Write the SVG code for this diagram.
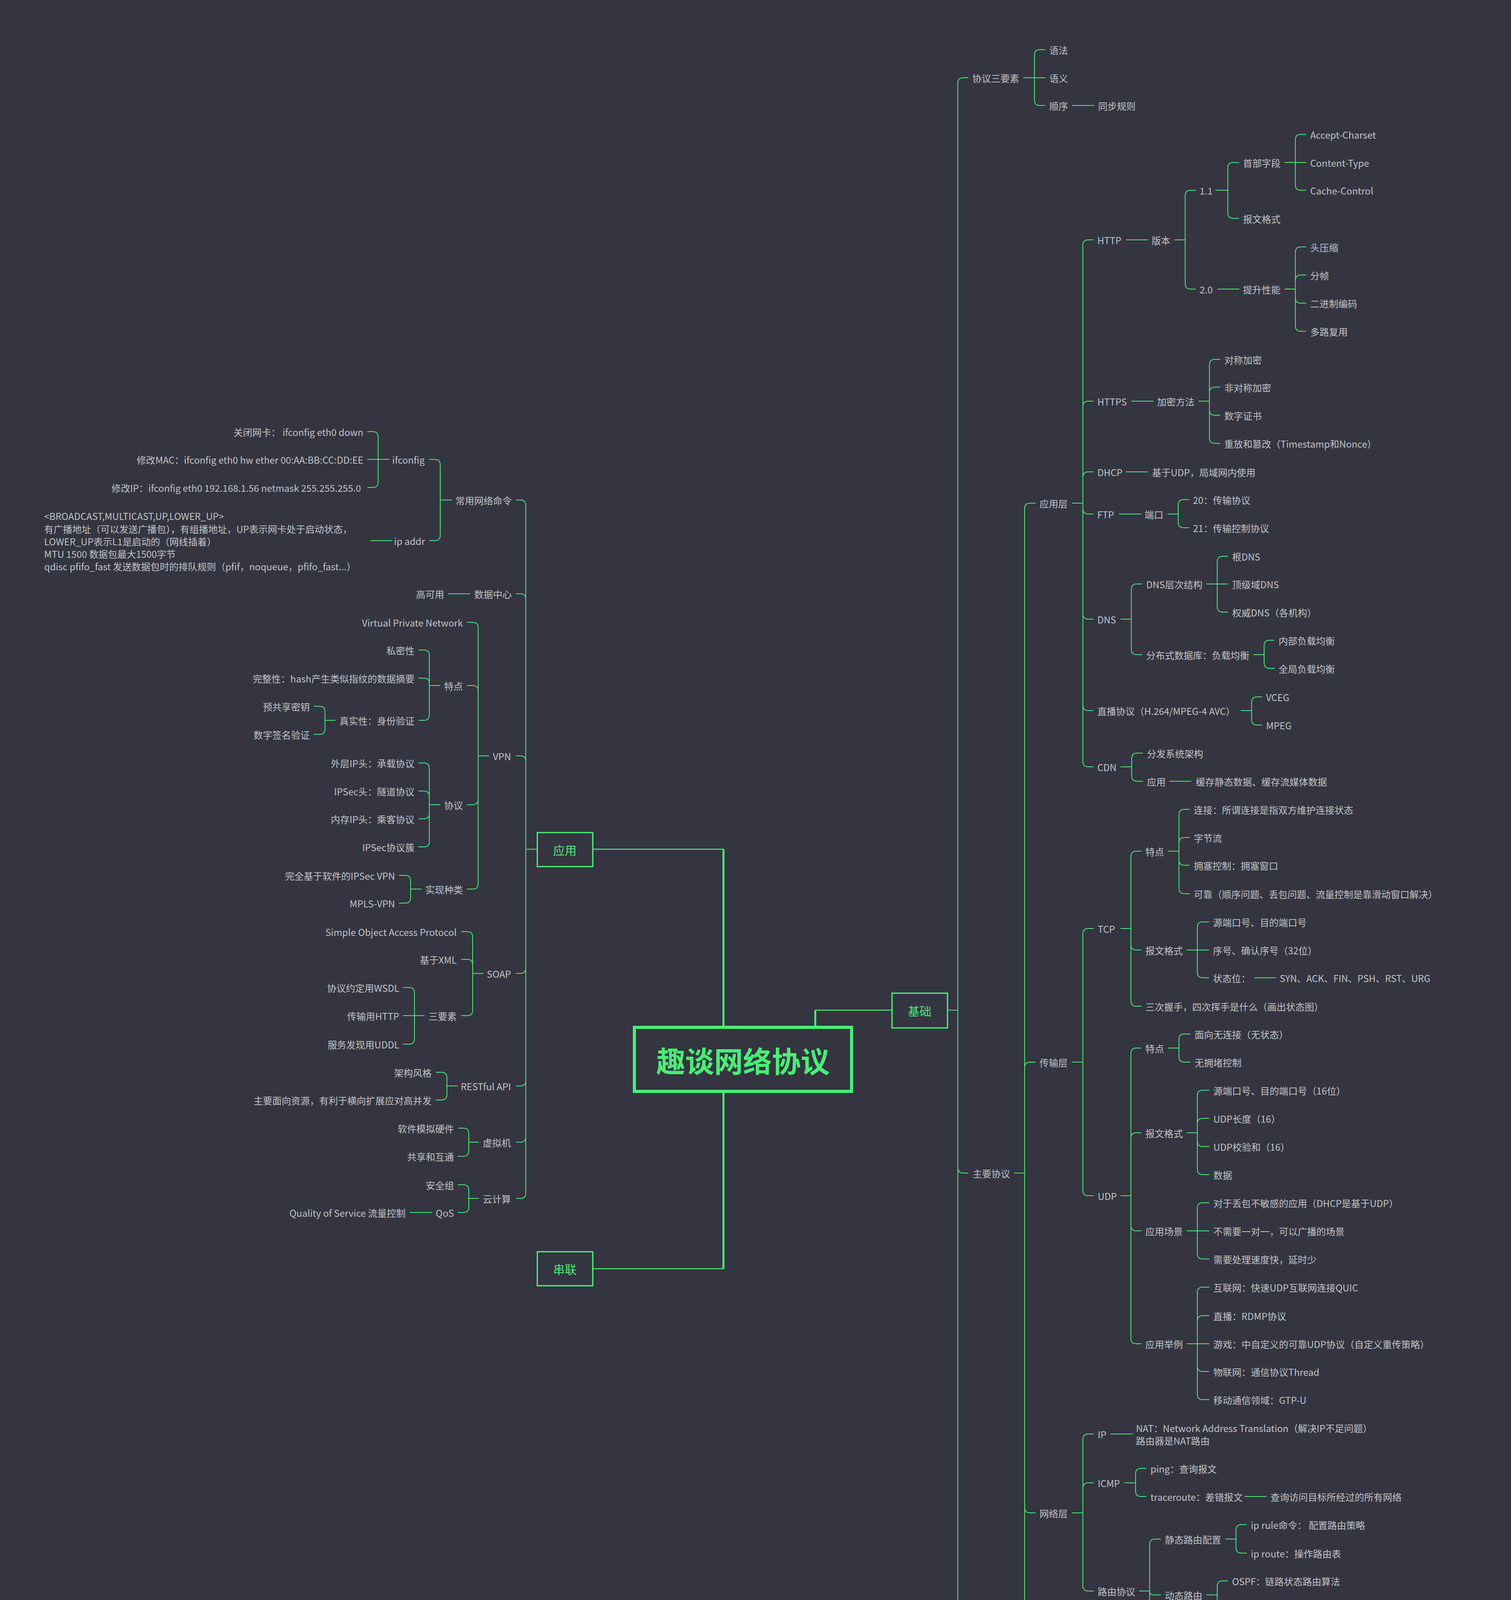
<svg xmlns="http://www.w3.org/2000/svg" width="3868" height="5280" viewBox="0 0 3868 5280">
<style>
.t{font-family:"Noto Sans CJK SC","Noto Sans",sans-serif;font-size:24px;fill:#c4c4c8;dominant-baseline:central}
.r{text-anchor:end}
.c{fill:none;stroke:#4bed76;stroke-width:2;stroke-linecap:round;stroke-linejoin:round}
.k{fill:none;stroke:#4bed76}
.b{fill:#343541;stroke:#4bed76;stroke-width:3.3}
.bt{font-family:"Noto Sans CJK SC","Noto Sans",sans-serif;font-size:30px;fill:#4bed76;text-anchor:middle;dominant-baseline:central}
</style>
<rect width="3868" height="5280" fill="#343541"/>
<g id="connectors">
<g class="k">
<path d="M1519 2174H1852M1519 3248H1852M2282 2586H2087" stroke-width="2.5"/>
<path d="M1852 2174V2630M1852 3248V2794M2087 2586V2630" stroke-width="5"/>
</g>
<g class="c">
<path d="M2427 2586H2452M2452 2586V213Q2452 199 2466 199H2478M2452 2586V2989Q2452 3003 2466 3003H2478M2452 2586V4957Q2452 4971 2466 4971H2478"/>
<path d="M2620 199H2648M2648 199V141Q2648 127 2662 127H2675M2648 199H2675M2648 199V256Q2648 270 2662 270H2675M2745 270H2800"/>
<path d="M2597 3003H2623M2623 3003V1302Q2623 1288 2637 1288H2650M2623 3003V2733Q2623 2719 2637 2719H2650M2623 3003V3859Q2623 3873 2637 3873H2650M2623 3003V4439Q2623 4453 2637 4453H2650M2623 3003V4705Q2623 4719 2637 4719H2650"/>
<path d="M2745 1288H2772M2772 1288V628Q2772 614 2786 614H2798M2772 1288V1041Q2772 1027 2786 1027H2798M2772 1288V1222Q2772 1208 2786 1208H2798M2772 1288V1302Q2772 1316 2786 1316H2798M2772 1288V1571Q2772 1585 2786 1585H2798M2772 1288V1805Q2772 1819 2786 1819H2798M2772 1288V1949Q2772 1963 2786 1963H2798"/>
<path d="M2883 614H2938M3007 614H3034M3034 614V501Q3034 487 3048 487H3060M3034 614V726Q3034 740 3048 740H3060"/>
<path d="M3112 487H3143M3143 487V430Q3143 416 3157 416H3171M3143 487V545Q3143 559 3157 559H3171"/>
<path d="M3289 416H3316M3316 416V358Q3316 344 3330 344H3343M3316 416H3343M3316 416V473Q3316 487 3330 487H3343"/>
<path d="M3117 740H3172M3289 740H3316M3316 740V646Q3316 632 3330 632H3343M3316 740V718Q3316 704 3330 704H3343M3316 740V762Q3316 776 3330 776H3343M3316 740V834Q3316 848 3330 848H3343"/>
<path d="M2897 1027H2952M3069 1027H3096M3096 1027V934Q3096 920 3110 920H3123M3096 1027V1005Q3096 991 3110 991H3123M3096 1027V1049Q3096 1063 3110 1063H3123M3096 1027V1121Q3096 1135 3110 1135H3123"/>
<path d="M2883 1208H2938"/>
<path d="M2865 1316H2920M2989 1316H3016M3016 1316V1293Q3016 1279 3030 1279H3043M3016 1316V1337Q3016 1351 3030 1351H3043"/>
<path d="M2869 1585H2896M2896 1585V1509Q2896 1495 2910 1495H2923M2896 1585V1662Q2896 1676 2910 1676H2923"/>
<path d="M3089 1495H3116M3116 1495V1438Q3116 1424 3130 1424H3143M3116 1495H3143M3116 1495V1553Q3116 1567 3130 1567H3143"/>
<path d="M3209 1676H3236M3236 1676V1653Q3236 1639 3250 1639H3262M3236 1676V1697Q3236 1711 3250 1711H3262"/>
<path d="M3177 1819H3204M3204 1819V1798Q3204 1784 3218 1784H3230M3204 1819V1842Q3204 1856 3218 1856H3230"/>
<path d="M2869 1963H2897M2897 1963V1942Q2897 1928 2911 1928H2925M2897 1963V1986Q2897 2000 2911 2000H2925M2994 2000H3049"/>
<path d="M2745 2719H2772M2772 2719V2391Q2772 2377 2786 2377H2799M2772 2719V3047Q2772 3061 2786 3061H2799"/>
<path d="M2869 2377H2895M2895 2377V2193Q2895 2179 2909 2179H2921M2895 2377V2418Q2895 2432 2909 2432H2921M2895 2377V2562Q2895 2576 2909 2576H2921"/>
<path d="M2991 2179H3018M3018 2179V2086Q3018 2072 3032 2072H3045M3018 2179V2158Q3018 2144 3032 2144H3045M3018 2179V2201Q3018 2215 3032 2215H3045M3018 2179V2274Q3018 2288 3032 2288H3045"/>
<path d="M3039 2432H3065M3065 2432V2374Q3065 2360 3079 2360H3094M3065 2432H3094M3065 2432V2489Q3065 2503 3079 2503H3094M3212 2503H3265"/>
<path d="M2869 3061H2895M2895 3061V2697Q2895 2683 2909 2683H2921M2895 3061V2914Q2895 2900 2909 2900H2921M2895 3061V3137Q2895 3151 2909 3151H2921M2895 3061V3426Q2895 3440 2909 3440H2921"/>
<path d="M2991 2683H3018M3018 2683V2661Q3018 2647 3032 2647H3047M3018 2683V2705Q3018 2719 3032 2719H3047"/>
<path d="M3039 2900H3065M3065 2900V2805Q3065 2791 3079 2791H3095M3065 2900V2877Q3065 2863 3079 2863H3095M3065 2900V2921Q3065 2935 3079 2935H3095M3065 2900V2993Q3065 3007 3079 3007H3095"/>
<path d="M3039 3151H3065M3065 3151V3093Q3065 3079 3079 3079H3095M3065 3151H3095M3065 3151V3209Q3065 3223 3079 3223H3095"/>
<path d="M3039 3440H3065M3065 3440V3309Q3065 3295 3079 3295H3095M3065 3440V3382Q3065 3368 3079 3368H3095M3065 3440H3095M3065 3440V3497Q3065 3511 3079 3511H3095M3065 3440V3569Q3065 3583 3079 3583H3095"/>
<path d="M2745 3873H2772M2772 3873V3685Q2772 3671 2786 3671H2799M2772 3873V3810Q2772 3796 2786 3796H2799M2772 3873V4059Q2772 4073 2786 4073H2799"/>
<path d="M2844 3671H2899M2879 3796H2907M2907 3796V3773Q2907 3759 2921 3759H2934M2907 3796V3817Q2907 3831 2921 3831H2934M3187 3831H3241"/>
<path d="M2917 4073H2943M2943 4073V3954Q2943 3940 2957 3940H2971M2943 4073Q2943 4083 2953 4083H2971M2943 4073V4193Q2943 4207 2957 4207H2971"/>
<path d="M3137 3940H3164M3164 3940V3917Q3164 3903 3178 3903H3191M3164 3940V3962Q3164 3976 3178 3976H3191"/>
<path d="M3089 4083H3116M3116 4083V4061Q3116 4047 3130 4047H3143M3116 4083V4106Q3116 4120 3130 4120H3143"/>
<path d="M2793 4453H2820M2820 4453V4353Q2820 4339 2834 4339H2847M2820 4453V4553Q2820 4567 2834 4567H2847"/>
<path d="M3189 4339H3231M3231 4339V4309Q3231 4295 3245 4295H3261M3231 4339V4369Q3231 4383 3245 4383H3261"/>
<path d="M2911 4567H2943M2943 4567V4502Q2943 4488 2957 4488H2969M2943 4567Q2943 4575 2951 4575H2969M2943 4567V4634Q2943 4648 2957 4648H2969M3296 4488H3349"/>
<path d="M2745 4719H2799"/>
<path d="M2621 4971H2646M2646 4971V4806Q2646 4792 2660 4792H2673M2646 4971V4877Q2646 4863 2660 4863H2673M2646 4971V4950Q2646 4936 2660 4936H2673M2646 4971V4993Q2646 5007 2660 5007H2673M2646 4971V5066Q2646 5080 2660 5080H2673M2646 4971V5137Q2646 5151 2660 5151H2673"/>
<path d="M3049 4792H3103M3067 4863H3122M3075 4936H3130M3078 5007H3132M3073 5080H3128"/>
<path d="M1374 2174H1346M1346 2174V1294Q1346 1280 1332 1280H1322M1346 2174V1534Q1346 1520 1332 1520H1322M1346 2174V1949Q1346 1935 1332 1935H1322M1346 2174V2478Q1346 2492 1332 2492H1322M1346 2174V2766Q1346 2780 1332 2780H1322M1346 2174V2910Q1346 2924 1332 2924H1322M1346 2174V3054Q1346 3068 1332 3068H1322"/>
<path d="M1156 1280H1127M1127 1280V1190Q1127 1176 1113 1176H1099M1127 1280V1370Q1127 1384 1113 1384H1099"/>
<path d="M996 1176H968M968 1176V1119Q968 1105 954 1105H941M968 1176H941M968 1176V1234Q968 1248 954 1248H941M1004 1384H949"/>
<path d="M1203 1520H1148"/>
<path d="M1251 1935H1224M1224 1935V1607Q1224 1593 1210 1593H1196M1224 1935V1769Q1224 1755 1210 1755H1196M1224 1935V2046Q1224 2060 1210 2060H1196M1224 1935V2262Q1224 2276 1210 2276H1196"/>
<path d="M1126 1755H1099M1099 1755V1678Q1099 1664 1085 1664H1072M1099 1755V1750Q1099 1736 1085 1736H1072M1099 1755V1830Q1099 1844 1085 1844H1072"/>
<path d="M858 1844H832M832 1844V1822Q832 1808 818 1808H804M832 1844V1866Q832 1880 818 1880H804"/>
<path d="M1126 2060H1099M1099 2060V1967Q1099 1953 1085 1953H1072M1099 2060V2039Q1099 2025 1085 2025H1072M1099 2060V2082Q1099 2096 1085 2096H1072M1099 2060V2154Q1099 2168 1085 2168H1072"/>
<path d="M1078 2276H1051M1051 2276V2255Q1051 2241 1037 2241H1022M1051 2276V2298Q1051 2312 1037 2312H1022"/>
<path d="M1237 2492H1210M1210 2492V2399Q1210 2385 1196 2385H1181M1210 2492V2470Q1210 2456 1196 2456H1181M1210 2492V2586Q1210 2600 1196 2600H1181"/>
<path d="M1086 2600H1061M1061 2600V2542Q1061 2528 1047 2528H1033M1061 2600H1033M1061 2600V2659Q1061 2673 1047 2673H1033"/>
<path d="M1171 2780H1144M1144 2780V2759Q1144 2745 1130 2745H1116M1144 2780V2802Q1144 2816 1130 2816H1116"/>
<path d="M1225 2924H1200M1200 2924V2902Q1200 2888 1186 2888H1173M1200 2924V2946Q1200 2960 1186 2960H1173"/>
<path d="M1225 3068H1200M1200 3068V3047Q1200 3033 1186 3033H1173M1200 3068V3090Q1200 3104 1186 3104H1173M1105 3104H1050"/>
</g>
</g>
<g id="root"><rect x="1624" y="2630" width="556" height="164" fill="#343541" stroke="#4bed76" stroke-width="8"/><text x="1902" y="2712" font-family="Noto Sans CJK SC,sans-serif" font-size="74" font-weight="bold" fill="#4bed76" text-anchor="middle" dominant-baseline="central">趣谈网络协议</text></g>
<g id="b-app"><rect class="b" x="1375.5" y="2131.5" width="142" height="87"/><text class="bt" x="1446" y="2175">应用</text></g>
<g id="b-chain"><rect class="b" x="1375.5" y="3204.5" width="142" height="87"/><text class="bt" x="1446" y="3248">串联</text></g>
<g id="b-base"><rect class="b" x="2283.5" y="2542.5" width="142" height="89"/><text class="bt" x="2354" y="2587">基础</text></g>
<g id="right-nodes" class="t">
<g id="n1"><text x="2489" y="199">协议三要素</text></g>
<g id="n2"><text x="2686" y="127">语法</text></g>
<g id="n3"><text x="2686" y="199">语义</text></g>
<g id="n4"><text x="2686" y="270">顺序</text></g>
<g id="n5"><text x="2811" y="270">同步规则</text></g>
<g id="n6"><text x="2490" y="3003">主要协议</text></g>
<g id="n7"><text x="2661" y="1288">应用层</text></g>
<g id="n8"><text x="2809" y="614">HTTP</text></g>
<g id="n9"><text x="2948" y="614">版本</text></g>
<g id="n10"><text x="3071" y="487">1.1</text></g>
<g id="n11"><text x="3182" y="416">首部字段</text></g>
<g id="n12"><text x="3354" y="344">Accept-Charset</text></g>
<g id="n13"><text x="3354" y="416">Content-Type</text></g>
<g id="n14"><text x="3354" y="487">Cache-Control</text></g>
<g id="n15"><text x="3182" y="559">报文格式</text></g>
<g id="n16"><text x="3071" y="740">2.0</text></g>
<g id="n17"><text x="3182" y="740">提升性能</text></g>
<g id="n18"><text x="3354" y="632">头压缩</text></g>
<g id="n19"><text x="3354" y="704">分帧</text></g>
<g id="n20"><text x="3354" y="776">二进制编码</text></g>
<g id="n21"><text x="3354" y="848">多路复用</text></g>
<g id="n22"><text x="2809" y="1027">HTTPS</text></g>
<g id="n23"><text x="2962" y="1027">加密方法</text></g>
<g id="n24"><text x="3134" y="920">对称加密</text></g>
<g id="n25"><text x="3134" y="991">非对称加密</text></g>
<g id="n26"><text x="3134" y="1063">数字证书</text></g>
<g id="n27"><text x="3134" y="1135">重放和篡改（Timestamp和Nonce）</text></g>
<g id="n28"><text x="2809" y="1208">DHCP</text></g>
<g id="n29"><text x="2949" y="1208">基于UDP，局域网内使用</text></g>
<g id="n30"><text x="2809" y="1316">FTP</text></g>
<g id="n31"><text x="2930" y="1316">端口</text></g>
<g id="n32"><text x="3054" y="1279">20：传输协议</text></g>
<g id="n33"><text x="3054" y="1351">21：传输控制协议</text></g>
<g id="n34"><text x="2809" y="1585">DNS</text></g>
<g id="n35"><text x="2934" y="1495">DNS层次结构</text></g>
<g id="n36"><text x="3154" y="1424">根DNS</text></g>
<g id="n37"><text x="3154" y="1495">顶级域DNS</text></g>
<g id="n38"><text x="3154" y="1567">权威DNS（各机构）</text></g>
<g id="n39"><text x="2934" y="1676">分布式数据库：负载均衡</text></g>
<g id="n40"><text x="3273" y="1639">内部负载均衡</text></g>
<g id="n41"><text x="3273" y="1711">全局负载均衡</text></g>
<g id="n42"><text x="2809" y="1819">直播协议（H.264/MPEG-4 AVC）</text></g>
<g id="n43"><text x="3241" y="1784">VCEG</text></g>
<g id="n44"><text x="3241" y="1856">MPEG</text></g>
<g id="n45"><text x="2809" y="1963">CDN</text></g>
<g id="n46"><text x="2936" y="1928">分发系统架构</text></g>
<g id="n47"><text x="2936" y="2000">应用</text></g>
<g id="n48"><text x="3061" y="2000">缓存静态数据、缓存流媒体数据</text></g>
<g id="n49"><text x="2661" y="2719">传输层</text></g>
<g id="n50"><text x="2810" y="2377">TCP</text></g>
<g id="n51"><text x="2932" y="2179">特点</text></g>
<g id="n52"><text x="3056" y="2072">连接：所谓连接是指双方维护连接状态</text></g>
<g id="n53"><text x="3056" y="2144">字节流</text></g>
<g id="n54"><text x="3056" y="2215">拥塞控制：拥塞窗口</text></g>
<g id="n55"><text x="3056" y="2288">可靠（顺序问题、丢包问题、流量控制是靠滑动窗口解决）</text></g>
<g id="n56"><text x="2932" y="2432">报文格式</text></g>
<g id="n57"><text x="3105" y="2360">源端口号、目的端口号</text></g>
<g id="n58"><text x="3105" y="2432">序号、确认序号（32位）</text></g>
<g id="n59"><text x="3105" y="2503">状态位：</text></g>
<g id="n60"><text x="3276" y="2503">SYN、ACK、FIN、PSH、RST、URG</text></g>
<g id="n61"><text x="2932" y="2576">三次握手，四次挥手是什么（画出状态图）</text></g>
<g id="n62"><text x="2810" y="3061">UDP</text></g>
<g id="n63"><text x="2932" y="2683">特点</text></g>
<g id="n64"><text x="3058" y="2647">面向无连接（无状态）</text></g>
<g id="n65"><text x="3058" y="2719">无拥堵控制</text></g>
<g id="n66"><text x="2932" y="2900">报文格式</text></g>
<g id="n67"><text x="3106" y="2791">源端口号、目的端口号（16位）</text></g>
<g id="n68"><text x="3106" y="2863">UDP长度（16）</text></g>
<g id="n69"><text x="3106" y="2935">UDP校验和（16）</text></g>
<g id="n70"><text x="3106" y="3007">数据</text></g>
<g id="n71"><text x="2932" y="3151">应用场景</text></g>
<g id="n72"><text x="3106" y="3079">对于丢包不敏感的应用（DHCP是基于UDP）</text></g>
<g id="n73"><text x="3106" y="3151">不需要一对一，可以广播的场景</text></g>
<g id="n74"><text x="3106" y="3223">需要处理速度快，延时少</text></g>
<g id="n75"><text x="2932" y="3440">应用举例</text></g>
<g id="n76"><text x="3106" y="3295">互联网：快速UDP互联网连接QUIC</text></g>
<g id="n77"><text x="3106" y="3368">直播：RDMP协议</text></g>
<g id="n78"><text x="3106" y="3440">游戏：中自定义的可靠UDP协议（自定义重传策略）</text></g>
<g id="n79"><text x="3106" y="3511">物联网：通信协议Thread</text></g>
<g id="n80"><text x="3106" y="3583">移动通信领域：GTP-U</text></g>
<g id="n81"><text x="2661" y="3873">网络层</text></g>
<g id="n82"><text x="2810" y="3671">IP</text></g>
<g id="n83"><text x="2908" y="3655">NAT：Network Address Translation（解决IP不足问题）</text><text x="2908" y="3687">路由器是NAT路由</text></g>
<g id="n84"><text x="2810" y="3796">ICMP</text></g>
<g id="n85"><text x="2945" y="3759">ping：查询报文</text></g>
<g id="n86"><text x="2945" y="3831">traceroute：差错报文</text></g>
<g id="n87"><text x="3252" y="3831">查询访问目标所经过的所有网络</text></g>
<g id="n88"><text x="2810" y="4073">路由协议</text></g>
<g id="n89"><text x="2982" y="3940">静态路由配置</text></g>
<g id="n90"><text x="3202" y="3903">ip rule命令： 配置路由策略</text></g>
<g id="n91"><text x="3202" y="3976">ip route：操作路由表</text></g>
<g id="n92"><text x="2982" y="4083">动态路由</text></g>
<g id="n93"><text x="3154" y="4047">OSPF：链路状态路由算法</text></g>
<g id="n94"><text x="3154" y="4120">BGP：距离矢量路由算法</text></g>
<g id="n95"><text x="2982" y="4191">路由所谓的下一跳是，某个 IP 要将这个 IP 地址转换为</text><text x="2982" y="4223">MAC 放入 MAC 头</text></g>
<g id="n96"><text x="2661" y="4453">数据链路层</text></g>
<g id="n97"><text x="2858" y="4339">MAC（Media Access Control）</text></g>
<g id="n98"><text x="3272" y="4295">多路访问</text></g>
<g id="n99"><text x="3272" y="4367">数据格式： （MAC48位）</text><text x="3272" y="4399">目标MAC+源MAC+类型（IP包）+ 数据 + CRC</text></g>
<g id="n100"><text x="2858" y="4567">ARP</text></g>
<g id="n101"><text x="2980" y="4472">Address Resolution Protocol</text><text x="2980" y="4503">根据IP获取物理地址</text></g>
<g id="n102"><text x="3360" y="4472">通过解析网络层地址来找寻数据链</text><text x="3360" y="4503">路层地址的网络传输协议</text></g>
<g id="n103"><text x="2980" y="4575">ARP缓存</text></g>
<g id="n104"><text x="2980" y="4648">IPV6被NDP代替</text></g>
<g id="n105"><text x="2661" y="4719">物理层</text></g>
<g id="n106"><text x="2810" y="4719">信号和介质</text></g>
<g id="n107"><text x="2490" y="4971">公网IP分类</text></g>
<g id="n108"><text x="2684" y="4792">A类：0.0.0.0 ～ 127.255.255.255</text></g>
<g id="n109"><text x="3115" y="4792">私有：10.0.0.0 ～ 10.255.255.255</text></g>
<g id="n110"><text x="2684" y="4863">B类：128.0.0.0 ~ 191.255.255.255</text></g>
<g id="n111"><text x="3133" y="4863">私有：172.16.0.0 ～ 172.31.255.255</text></g>
<g id="n112"><text x="2684" y="4936">C类：192.0.0.0 ～ 223.255.255.255</text></g>
<g id="n113"><text x="3141" y="4936">私有：192.168.0.0 ～ 192.168.255.255</text></g>
<g id="n114"><text x="2684" y="5007">D类：224.0.0.0 ～ 239.255.255.255</text></g>
<g id="n115"><text x="3143" y="5007">组播用</text></g>
<g id="n116"><text x="2684" y="5080">E类：240.0.0.0 ～ 247.255.255.255</text></g>
<g id="n117"><text x="3139" y="5080">备用</text></g>
<g id="n118"><text x="2684" y="5151">CIDR 无类型域间选路</text></g>
</g>
<g id="left-nodes" class="t r">
<g id="m1"><text x="1310" y="1280">常用网络命令</text></g>
<g id="m2"><text x="1087" y="1176">ifconfig</text></g>
<g id="m3"><text x="930" y="1105">关闭网卡： ifconfig eth0 down</text></g>
<g id="m4"><text x="930" y="1176">修改MAC：ifconfig eth0 hw ether 00:AA:BB:CC:DD:EE</text></g>
<g id="m5"><text x="924" y="1248">修改IP：ifconfig eth0 192.168.1.56 netmask 255.255.255.0</text></g>
<g id="m6"><text x="1088" y="1384">ip addr</text></g>
<g id="m7" style="text-anchor:start"><text x="113" y="1320">&lt;BROADCAST,MULTICAST,UP,LOWER_UP&gt;</text><text x="113" y="1353">有广播地址（可以发送广播包），有组播地址，UP表示网卡处于启动状态，</text><text x="113" y="1385">LOWER_UP表示L1是启动的（网线插着）</text><text x="113" y="1417">MTU 1500 数据包最大1500字节</text><text x="113" y="1449">qdisc pfifo_fast 发送数据包时的排队规则（pfif，noqueue，pfifo_fast...）</text></g>
<g id="m8"><text x="1310" y="1520">数据中心</text></g>
<g id="m9"><text x="1137" y="1520">高可用</text></g>
<g id="m10"><text x="1308" y="1935">VPN</text></g>
<g id="m11"><text x="1185" y="1593">Virtual Private Network</text></g>
<g id="m12"><text x="1185" y="1755">特点</text></g>
<g id="m13"><text x="1061" y="1664">私密性</text></g>
<g id="m14"><text x="1061" y="1736">完整性：hash产生类似指纹的数据摘要</text></g>
<g id="m15"><text x="1061" y="1844">真实性：身份验证</text></g>
<g id="m16"><text x="793" y="1808">预共享密钥</text></g>
<g id="m17"><text x="793" y="1880">数字签名验证</text></g>
<g id="m18"><text x="1185" y="2060">协议</text></g>
<g id="m19"><text x="1061" y="1953">外层IP头：承载协议</text></g>
<g id="m20"><text x="1061" y="2025">IPSec头：隧道协议</text></g>
<g id="m21"><text x="1061" y="2096">内存IP头：乘客协议</text></g>
<g id="m22"><text x="1061" y="2168">IPSec协议簇</text></g>
<g id="m23"><text x="1185" y="2276">实现种类</text></g>
<g id="m24"><text x="1011" y="2241">完全基于软件的IPSec VPN</text></g>
<g id="m25"><text x="1011" y="2312">MPLS-VPN</text></g>
<g id="m26"><text x="1308" y="2492">SOAP</text></g>
<g id="m27"><text x="1169" y="2385">Simple Object Access Protocol</text></g>
<g id="m28"><text x="1169" y="2456">基于XML</text></g>
<g id="m29"><text x="1169" y="2600">三要素</text></g>
<g id="m30"><text x="1022" y="2528">协议约定用WSDL</text></g>
<g id="m31"><text x="1022" y="2600">传输用HTTP</text></g>
<g id="m32"><text x="1022" y="2673">服务发现用UDDL</text></g>
<g id="m33"><text x="1308" y="2780">RESTful API</text></g>
<g id="m34"><text x="1105" y="2745">架构风格</text></g>
<g id="m35"><text x="1105" y="2816">主要面向资源，有利于横向扩展应对高并发</text></g>
<g id="m36"><text x="1308" y="2924">虚拟机</text></g>
<g id="m37"><text x="1162" y="2888">软件模拟硬件</text></g>
<g id="m38"><text x="1162" y="2960">共享和互通</text></g>
<g id="m39"><text x="1308" y="3068">云计算</text></g>
<g id="m40"><text x="1162" y="3033">安全组</text></g>
<g id="m41"><text x="1162" y="3104">QoS</text></g>
<g id="m42"><text x="1038" y="3104">Quality of Service 流量控制</text></g>
</g>
</svg>
